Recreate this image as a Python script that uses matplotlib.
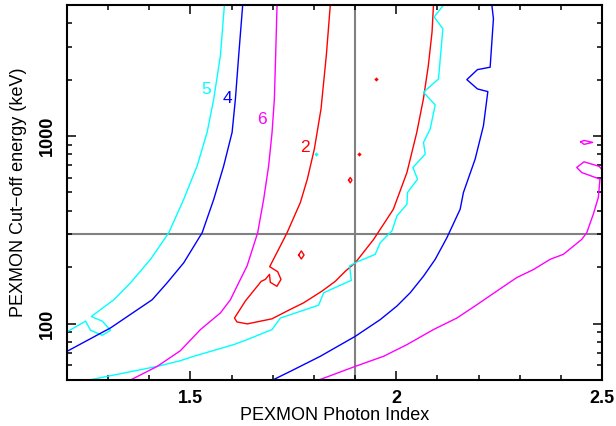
import matplotlib
matplotlib.use("Agg")
import matplotlib.pyplot as plt
from matplotlib.ticker import FixedLocator, MultipleLocator, LogLocator, NullFormatter, FixedFormatter

# ---------------- data ----------------
best_gamma = 1.9
best_ecut = 300

x_limits = (1.2, 2.5)
y_limits = (50, 5000)
x_major = [1.5, 2.0, 2.5]
x_major_labels = ["1.5", "2", "2.5"]
y_major = [100, 1000]
y_major_labels = ["100", "1000"]

# red contour (level colour index 2)
red_x = [1.8398, 1.8301, 1.8172, 1.801, 1.784, 1.767, 1.7347, 1.7265, 1.6925,
         1.712, 1.720, 1.710, 1.694, 1.692, 1.682, 1.672, 1.6335, 1.607, 1.613,
         1.638, 1.698, 1.7427, 1.775, 1.8197, 1.8519, 1.8762, 1.9005, 1.945, 1.993,
         2.026, 2.050, 2.066, 2.078, 2.087, 2.0905]
red_y = [5000, 2688, 1394, 852, 589, 442, 305, 281, 201,
         189, 172, 158, 166, 183, 172, 168, 132, 107, 102,
         99.6, 106, 119, 129, 149, 168, 190, 211, 281, 407,
         639, 1047, 1577, 2376, 3585, 5000]
red_island1_x = [1.7629, 1.7694, 1.7760, 1.7694, 1.7629]
red_island1_y = [232, 244, 232, 221, 232]
red_island2_x = [1.8842, 1.8883, 1.8924, 1.8883, 1.8842]
red_island2_y = [582, 601, 582, 563, 582]
red_dots_x = [1.910, 1.9515]
red_dots_y = [801, 2017]

# cyan contour (level colour index 5)
cyan1_x = [1.5825, 1.5728, 1.5566, 1.5405, 1.5163, 1.4837, 1.4473, 1.4029, 1.3544, 1.3138,
           1.259, 1.2857, 1.3058, 1.2857, 1.2573, 1.2451, 1.2]
cyan1_y = [5000, 2688, 1577, 1047, 694, 460, 305, 220, 165, 134,
           109, 103, 92.1, 86.6, 92.1, 103, 90.3]
cyan2_x = [1.2532, 1.4192, 1.4757, 1.508, 1.6051, 1.6376, 1.6983, 1.7184, 1.8114, 1.8236,
           1.8908, 1.8867, 1.9046, 1.949, 1.9612, 1.9896, 2.0017, 2.026, 2.0274, 2.0517,
           2.0405, 2.0704, 2.0663, 2.0825, 2.0947, 2.0663, 2.1027, 2.1133, 2.0922, 2.1148]
cyan2_y = [50, 59.1, 63.4, 66.9, 77.2, 82.1, 92.9, 107, 125.3, 146,
           170, 203, 213, 234, 270, 312, 375, 433, 500, 589,
           680, 801, 925, 1090, 1465, 1713, 2017, 3735, 4314, 5000]
cyan_dot_x = [1.806]
cyan_dot_y = [801]

# blue contour (level colour index 4)
blue1_x = [1.6269, 1.6172, 1.6092, 1.6012, 1.5808, 1.5566, 1.5284, 1.4837, 1.4434, 1.4070,
           1.3058, 1.2]
blue1_y = [5000, 2688, 1577, 1047, 694, 460, 305, 211, 165, 134, 94.8, 71.1]
blue2_x = [1.6998, 1.7427, 1.8155, 1.9005, 1.9612, 2.0017, 2.034, 2.0663, 2.0947, 2.1231,
           2.1553, 2.1633, 2.1917, 2.2119, 2.2226, 2.1973, 2.1716, 2.1973, 2.2282, 2.2362, 2.2323]
blue2_y = [50, 55.6, 66.9, 85.5, 105, 124, 146, 179, 220, 287,
           407, 500, 753, 1135, 1726, 1784, 2000, 2261, 2329, 4224, 5000]

# magenta contour (level colour index 6)
mag1_x = [1.7104, 1.707, 1.7039, 1.6983, 1.690, 1.6779, 1.6633, 1.6376, 1.6172, 1.5971,
          1.5728, 1.5243, 1.4757, 1.4192, 1.3544]
mag1_y = [5000, 2688, 1577, 1047, 694, 460, 305, 203, 165, 134,
          114, 92.9, 71.7, 59.1, 50]
mag2_x = [1.8119, 1.9005, 1.9692, 2.026, 2.0905, 2.1473, 2.1959, 2.2444, 2.293, 2.3333,
          2.3738, 2.4061, 2.4507, 2.4629, 2.4789, 2.491, 2.4951, 2.4507, 2.4386, 2.4563,
          2.4934, 2.5]
mag2_y = [50, 59.1, 66.9, 77.2, 92.9, 107, 126, 149, 176, 194,
          220, 234, 281, 305, 383, 470, 589, 639, 680, 729,
          689, 662]
mag_island_x = [2.4483, 2.4563, 2.4774, 2.4563, 2.4483]
mag_island_y = [932, 948, 925, 903, 932]

# contour labels
label_text = ["5", "4", "6", "2"]
label_x = [1.5388, 1.5905, 1.674, 1.7791]
label_y = [1769, 1577, 1222, 870]
label_colors = ["#00ffff", "#0000ff", "#ff00ff", "#ff0000"]

# ---------------- plot ----------------
plt.rcParams['font.family'] = ['Liberation Sans', 'DejaVu Sans']
fig = plt.figure(figsize=(6.16, 4.26), dpi=100)
ax = fig.add_axes([67 / 616, 1 - 380 / 426, 535 / 616, 375 / 426])
ax.set_yscale('log')

lw = 1.0
RED, CYAN, BLUE, MAG = "#ff0000", "#00ffff", "#0000ff", "#ff00ff"

ax.plot(red_x, red_y, color=RED, lw=lw)
ax.plot(red_island1_x, red_island1_y, color=RED, lw=lw)
ax.plot(red_island2_x, red_island2_y, color=RED, lw=lw)
ax.plot(red_dots_x, red_dots_y, ls='none', marker='D', ms=2.2, color=RED, mew=0)

ax.plot(cyan1_x, cyan1_y, color=CYAN, lw=lw)
ax.plot(cyan2_x, cyan2_y, color=CYAN, lw=lw)
ax.plot(cyan_dot_x, cyan_dot_y, ls='none', marker='D', ms=2.2, color=CYAN, mew=0)

ax.plot(blue1_x, blue1_y, color=BLUE, lw=lw)
ax.plot(blue2_x, blue2_y, color=BLUE, lw=lw)

ax.plot(mag1_x, mag1_y, color=MAG, lw=lw)
ax.plot(mag2_x, mag2_y, color=MAG, lw=lw)
ax.plot(mag_island_x, mag_island_y, color=MAG, lw=lw)

for t, x, y, c in zip(label_text, label_x, label_y, label_colors):
    ax.text(x, y, t, color=c, fontsize=12.5, ha='center', va='center')

ax.axvline(best_gamma, color='#808080', lw=1.5, zorder=1)
ax.axhline(best_ecut, color='#808080', lw=1.5, zorder=1)

ax.set_xlim(*x_limits)
ax.set_ylim(*y_limits)

ax.xaxis.set_major_locator(FixedLocator(x_major))
ax.xaxis.set_major_formatter(FixedFormatter(x_major_labels))
ax.xaxis.set_minor_locator(MultipleLocator(0.1))
ax.yaxis.set_major_locator(FixedLocator(y_major))
ax.yaxis.set_major_formatter(FixedFormatter(y_major_labels))
ax.yaxis.set_minor_locator(LogLocator(base=10, subs=[2, 3, 4, 5, 6, 7, 8, 9]))
ax.yaxis.set_minor_formatter(NullFormatter())

ax.tick_params(which='both', direction='in', top=True, right=True, width=1.1, colors='black')
ax.tick_params(which='major', length=6.5)
ax.tick_params(which='minor', length=3.8)
ax.tick_params(axis='x', which='major', pad=7, labelsize=13)
ax.tick_params(axis='y', which='major', pad=8, labelsize=13)
for lab in ax.get_xticklabels() + ax.get_yticklabels():
    lab.set_fontweight('bold')
for lab in ax.get_yticklabels():
    lab.set_rotation(90)
    lab.set_va('center')

for s in ax.spines.values():
    s.set_linewidth(1.5)

ax.set_xlabel("PEXMON Photon Index", fontsize=13)
ax.set_ylabel("PEXMON Cut\u2212off energy (keV)", fontsize=13)
ax.xaxis.set_label_coords(0.5, -0.072)
ax.yaxis.set_label_coords(-0.0748, 0.5)

fig.savefig("out.png", dpi=100)
